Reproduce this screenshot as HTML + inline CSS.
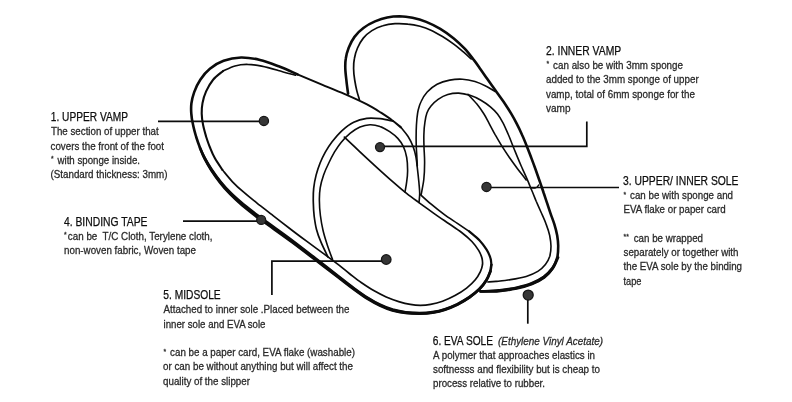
<!DOCTYPE html>
<html lang="en"><head><meta charset="utf-8"><title>Slipper structure</title>
<style>
html,body{margin:0;padding:0;background:#fff;}
body{width:792px;height:402px;overflow:hidden;font-family:"Liberation Sans",sans-serif;}
svg{display:block;position:absolute;left:0;top:0;will-change:transform;}
text{font-family:"Liberation Sans",sans-serif;white-space:pre;}
.t{font-size:12.0px;fill:#0e0e0e;stroke:#0e0e0e;stroke-width:0.25px;}
.b{font-size:11.5px;fill:#2a2a2a;stroke:#2a2a2a;stroke-width:0.3px;}
.i{font-size:11.5px;fill:#2a2a2a;stroke:#2a2a2a;stroke-width:0.3px;font-style:italic;}
.ld{fill:none;stroke:#0c0c0c;stroke-width:1.7;}
.dot{fill:#363636;stroke:#161616;stroke-width:1.3;}
</style></head><body>
<svg width="792" height="402" viewBox="0 0 792 402">
<rect width="792" height="402" fill="#fff"/>
<g fill="none" stroke="#0b0b0b" stroke-linecap="round" stroke-linejoin="round">
<path d="M348.1 93.7C347.8 91.5 346.8 84.5 346.4 80.3C345.9 76.1 345.4 72.2 345.3 68.6C345.2 65.0 345.2 61.9 345.8 58.5C346.3 55.0 347.3 51.3 348.7 47.7C350.2 44.1 352.1 40.1 354.5 36.9C356.9 33.6 360.0 30.5 363.4 28.0C366.8 25.4 371.0 23.1 375.0 21.4C379.0 19.7 383.1 18.3 387.2 17.5C391.2 16.7 395.1 16.3 399.4 16.3C403.6 16.4 408.0 16.9 412.5 17.8C417.0 18.7 421.6 20.0 426.2 21.9C430.9 23.8 435.7 26.2 440.3 28.9C444.9 31.7 449.7 35.1 453.8 38.4C457.8 41.7 461.4 45.2 464.7 48.7C467.9 52.1 470.6 55.7 473.2 59.1C475.9 62.4 478.0 65.6 480.3 68.9C482.6 72.1 484.6 75.1 487.0 78.6C489.4 82.1 492.2 85.8 495.0 89.7C497.7 93.5 500.9 97.8 503.6 101.7C506.2 105.6 508.7 109.5 510.9 113.1C513.1 116.8 514.9 120.0 516.7 123.6C518.6 127.2 520.3 130.8 522.0 134.7C523.8 138.5 525.5 142.8 527.0 146.7C528.6 150.6 530.0 154.4 531.4 158.1C532.8 161.9 534.1 165.4 535.5 169.2C536.9 173.1 538.3 177.3 539.7 181.2C541.0 185.2 542.5 189.3 543.7 193.0C545.0 196.7 546.0 200.0 547.2 203.4C548.3 206.9 549.4 210.1 550.6 213.6C551.8 217.1 553.3 220.7 554.4 224.4C555.5 228.0 556.5 231.8 557.2 235.5C557.8 239.2 558.3 242.9 558.2 246.6C558.2 250.3 558.1 254.1 557.2 257.7C556.2 261.3 554.8 264.9 552.6 268.2C550.4 271.4 547.5 274.5 544.0 277.1C540.6 279.7 536.5 281.8 531.9 283.6C527.3 285.5 522.1 286.9 516.5 288.1C511.0 289.3 504.9 290.2 498.9 290.7C492.8 291.2 483.6 291.3 480.5 291.4" stroke-width="2.6"/>
<path d="M558.1 257.5C557.2 259.3 555.1 265.0 552.8 268.3C550.5 271.7 547.8 274.9 544.3 277.5C540.9 280.1 536.7 282.2 532.0 284.1C527.4 285.9 522.2 287.4 516.6 288.6C511.1 289.7 504.9 290.7 498.9 291.1C492.9 291.6 483.6 291.4 480.5 291.4L480.5 291.4C483.6 291.2 492.8 290.9 498.8 290.3C504.8 289.6 511.0 288.9 516.5 287.7C521.9 286.5 527.2 285.1 531.7 283.2C536.3 281.4 540.3 279.3 543.8 276.8C547.2 274.2 550.0 271.2 552.4 268.0C554.8 264.8 557.2 259.3 558.1 257.5 Z" fill="#0b0b0b" stroke-width="2.6"/>
<path d="M359.4 99.4C359.0 98.0 357.7 94.3 356.9 91.1C356.1 87.9 355.3 83.8 354.7 80.0C354.1 76.2 353.6 72.2 353.6 68.6C353.5 65.0 353.7 61.9 354.4 58.5C355.0 55.0 356.0 51.4 357.5 48.0C359.0 44.6 360.9 41.0 363.3 38.1C365.7 35.2 368.6 32.7 371.9 30.6C375.1 28.6 378.9 26.9 382.8 25.8C386.7 24.6 390.8 24.0 395.0 23.7C399.2 23.4 403.6 23.6 407.8 24.1C412.0 24.5 416.1 25.3 420.0 26.3C423.8 27.4 427.2 28.6 430.9 30.2C434.7 31.9 438.6 34.2 442.5 36.5C446.4 38.9 450.6 41.8 454.1 44.4C457.5 46.9 460.5 49.5 463.4 51.9C466.3 54.4 469.9 57.8 471.2 59.0" stroke-width="1.7"/>
<path d="M417.3 166.0C417.2 164.2 417.0 159.1 416.8 155.5C416.6 151.9 416.3 148.4 416.2 144.2C416.1 140.1 416.1 135.1 416.2 130.9C416.3 126.6 416.6 122.2 416.9 118.8C417.3 115.3 417.5 112.9 418.2 110.0C418.9 107.1 419.6 104.5 421.1 101.5C422.5 98.5 424.5 94.9 427.2 92.0C429.8 89.1 433.4 86.2 437.1 84.2C440.9 82.2 445.4 80.9 449.7 80.1C453.9 79.3 458.3 79.0 462.5 79.2C466.7 79.5 471.0 80.4 475.0 81.5C479.0 82.7 482.9 84.6 486.2 86.3C489.6 87.9 493.5 90.6 495.0 91.5" stroke-width="1.6"/>
<path d="M421.2 194.4C421.6 191.9 423.2 184.7 423.8 179.5C424.4 174.3 424.6 168.4 424.6 163.1C424.7 157.8 424.2 152.3 424.0 147.5C423.9 142.7 423.7 138.5 423.9 134.3C424.0 130.2 424.3 125.8 424.9 122.3C425.4 118.8 425.9 115.8 426.9 113.0C427.9 110.3 429.1 108.3 431.0 106.0C432.9 103.7 435.3 101.2 438.1 99.3C440.9 97.4 444.4 95.5 447.8 94.5C451.2 93.5 455.0 93.0 458.7 93.1C462.4 93.3 466.3 94.2 470.0 95.3C473.7 96.5 477.5 98.2 480.9 100.2C484.2 102.1 487.6 104.4 490.4 106.8C493.2 109.1 495.4 111.3 497.5 114.0C499.6 116.7 501.2 119.5 503.0 122.8C504.8 126.2 506.5 130.4 508.2 134.3C510.0 138.3 511.6 142.7 513.2 146.7C514.9 150.7 516.4 154.7 518.0 158.4C519.5 162.2 521.1 165.7 522.6 169.2C524.2 172.7 525.7 175.9 527.2 179.4C528.7 182.8 530.0 186.2 531.5 189.8C533.1 193.5 534.6 197.4 536.2 201.3C537.9 205.2 539.7 209.2 541.4 213.0C543.1 216.8 544.9 220.6 546.2 224.4C547.6 228.1 548.9 231.8 549.7 235.5C550.4 239.2 551.0 242.9 551.0 246.3C551.0 249.7 550.7 253.1 549.8 256.2C548.8 259.2 547.4 262.1 545.4 264.6C543.4 267.2 541.0 269.5 537.8 271.4C534.6 273.4 530.8 275.0 526.2 276.4C521.7 277.7 515.6 278.8 510.6 279.6C505.6 280.5 499.8 281.0 496.0 281.4C492.2 281.8 489.2 281.9 487.8 282.0" stroke-width="1.6"/>
<path d="M468.0 94.4C469.5 96.0 474.2 100.8 476.9 104.1C479.5 107.3 481.7 110.5 483.8 113.8C485.9 117.0 487.3 120.1 489.2 123.6C491.1 127.1 493.0 130.9 495.1 134.7C497.3 138.4 499.6 142.4 501.9 146.2C504.3 150.0 506.8 153.7 509.4 157.5C512.0 161.2 514.7 165.0 517.5 168.7C520.4 172.5 524.8 178.1 526.2 180.0" stroke-width="1.6"/>
<path d="M531.9 187.9C532.4 187.9 534.0 188.2 534.9 188.1C535.7 187.9 536.5 187.5 537.2 187.0C537.8 186.5 538.4 185.3 538.7 185.0" stroke-width="1.4"/>
<path d="M297.5 74.4C294.4 73.1 285.0 68.7 278.7 66.3C272.5 63.9 266.2 61.3 260.0 59.9C253.7 58.4 247.2 57.4 241.1 57.5C235.0 57.7 228.8 58.9 223.6 60.8C218.4 62.6 213.8 65.6 209.9 68.8C206.0 71.9 202.9 75.9 200.3 79.8C197.7 83.7 195.7 88.1 194.2 92.1C192.8 96.0 191.9 99.8 191.4 103.4C191.0 107.0 191.0 110.0 191.3 113.6C191.5 117.2 192.2 121.1 193.1 125.0C193.9 128.9 195.1 133.2 196.2 137.0C197.4 140.8 198.6 144.2 200.0 147.8C201.4 151.3 202.7 154.5 204.6 158.2C206.6 162.0 208.9 166.0 211.5 170.0C214.2 174.0 217.3 178.4 220.5 182.3C223.6 186.3 226.9 190.0 230.6 193.8C234.3 197.5 238.1 200.9 242.6 204.7C247.2 208.5 252.5 212.6 257.8 216.6C263.1 220.5 268.6 224.2 274.4 228.4C280.2 232.6 285.6 236.5 292.5 241.6C299.4 246.8 307.9 253.4 315.6 259.3C323.3 265.2 332.2 272.0 338.8 277.1C345.3 282.2 350.2 286.1 355.0 289.6C359.8 293.1 363.3 295.7 367.5 298.2C371.7 300.8 375.8 303.2 380.0 305.1C384.2 307.1 388.2 308.7 392.5 310.0C396.8 311.2 401.1 312.1 405.6 312.6C410.1 313.2 414.9 313.4 419.4 313.4C423.9 313.4 428.2 313.1 432.5 312.5C436.8 311.8 440.8 310.9 445.0 309.5C449.2 308.2 453.4 306.4 457.5 304.4C461.6 302.3 465.7 299.9 469.4 297.4C473.0 294.8 476.5 291.9 479.4 289.1C482.2 286.2 484.6 283.0 486.4 280.1C488.2 277.3 489.3 274.3 490.1 271.7C491.0 269.1 491.2 265.8 491.4 264.7" stroke-width="2.6"/>
<path d="M491.4 264.7C491.2 263.6 491.3 260.4 490.4 257.9C489.6 255.4 488.4 252.6 486.6 249.7C484.7 246.7 482.2 243.3 479.4 240.3C476.5 237.3 471.0 233.0 469.4 231.5" stroke-width="2.2"/>
<path d="M469.4 231.5C467.4 230.2 461.6 226.3 457.4 223.4C453.1 220.5 448.4 217.6 444.1 214.4C439.7 211.2 435.1 207.5 431.2 204.2C427.2 200.9 422.0 196.0 420.2 194.4" stroke-width="1.7"/>
<path d="M200.0 148.0C200.8 149.7 202.8 154.5 204.8 158.2C206.7 161.8 209.1 165.9 211.8 169.8C214.4 173.8 217.6 178.2 220.8 182.1C224.0 186.0 227.3 189.7 231.0 193.3C234.7 197.0 238.6 200.3 243.1 204.1C247.7 207.8 253.0 211.9 258.3 215.8C263.6 219.8 269.1 223.6 274.8 227.8C280.6 232.0 286.1 235.9 292.9 241.0C299.8 246.2 308.3 252.8 316.0 258.8C323.7 264.7 332.5 271.6 339.1 276.7C345.6 281.7 350.5 285.7 355.3 289.2C360.1 292.7 363.6 295.2 367.8 297.8C371.9 300.4 376.1 302.8 380.2 304.7C384.3 306.7 388.4 308.3 392.6 309.6C396.9 310.8 401.2 311.7 405.7 312.2C410.1 312.8 414.9 313.0 419.4 313.0C423.8 313.0 428.2 312.8 432.5 312.1C436.7 311.5 440.8 310.6 444.9 309.2C449.1 307.9 453.3 306.2 457.4 304.2C461.4 302.1 465.6 299.7 469.3 297.2C472.9 294.7 476.4 291.8 479.3 289.0C482.1 286.1 484.5 283.1 486.3 280.1C488.2 277.1 489.9 272.7 490.6 271.2L490.6 271.2C489.9 272.7 488.3 277.2 486.5 280.2C484.6 283.2 482.3 286.3 479.5 289.2C476.6 292.1 473.1 294.9 469.5 297.5C465.8 300.1 461.7 302.5 457.6 304.6C453.5 306.6 449.3 308.4 445.1 309.8C440.9 311.2 436.8 312.1 432.5 312.8C428.3 313.5 423.9 313.7 419.4 313.8C414.9 313.8 410.1 313.6 405.6 313.0C401.1 312.5 396.7 311.6 392.4 310.4C388.1 309.1 384.0 307.5 379.8 305.5C375.6 303.6 371.4 301.3 367.2 298.7C363.1 296.1 359.5 293.5 354.7 290.0C349.9 286.5 345.0 282.6 338.4 277.5C331.8 272.5 323.0 265.7 315.2 259.8C307.5 253.9 299.0 247.3 292.1 242.2C285.2 237.1 279.7 233.2 273.9 229.1C268.1 224.9 262.6 221.2 257.3 217.3C252.0 213.3 246.7 209.1 242.1 205.3C237.6 201.4 233.8 197.9 230.2 194.2C226.5 190.4 223.2 186.6 220.1 182.6C216.9 178.6 213.9 174.2 211.3 170.2C208.7 166.1 206.4 162.0 204.5 158.3C202.6 154.6 200.8 149.7 200.0 148.0 Z" fill="#0b0b0b" stroke-width="2.6"/>
<path d="M295.5 75.3C292.6 74.5 283.9 71.9 278.2 70.4C272.6 68.8 266.7 67.1 261.6 66.1C256.4 65.1 251.9 64.4 247.5 64.4C243.1 64.3 239.1 64.8 235.0 65.9C230.9 67.0 225.1 70.1 223.1 70.9" stroke-width="1.6"/>
<path d="M223.1 70.9C221.5 72.4 216.0 76.3 213.1 79.7C210.3 83.1 207.9 87.5 206.1 91.4C204.3 95.3 203.2 99.4 202.5 103.1C201.8 106.8 201.6 110.0 201.7 113.6C201.8 117.2 202.3 121.1 203.1 125.0C203.9 128.9 205.1 133.1 206.2 136.9C207.4 140.6 208.5 144.0 210.0 147.5C211.4 151.0 212.7 154.4 214.8 158.1C216.9 161.9 221.2 168.0 222.5 170.0" stroke-width="2.1"/>
<path d="M222.5 170.0C224.2 172.0 228.9 178.0 232.5 181.8C236.0 185.5 239.5 188.7 243.7 192.2C247.8 195.8 252.3 199.4 257.3 203.3C262.2 207.2 268.1 211.7 273.4 215.9C278.7 220.1 283.8 224.0 289.4 228.2C294.9 232.5 300.8 236.9 306.9 241.4C312.9 245.8 320.2 251.1 325.6 255.1C331.0 259.1 335.1 262.2 339.0 265.2C343.0 268.3 345.6 270.6 349.3 273.5C353.0 276.3 357.1 279.6 361.2 282.5C365.3 285.3 369.5 288.2 373.7 290.6C377.9 293.0 382.0 295.1 386.2 297.0C390.4 298.8 394.7 300.4 398.7 301.6C402.7 302.8 406.7 303.8 410.3 304.4C413.9 305.0 416.9 305.3 420.3 305.3C423.7 305.3 426.9 305.1 430.6 304.4C434.3 303.7 438.4 302.7 442.5 301.2C446.6 299.8 451.0 297.8 455.0 295.6C459.0 293.4 463.2 290.7 466.6 288.1C469.9 285.5 473.0 282.6 475.3 279.8C477.6 277.1 479.2 274.2 480.4 271.7C481.6 269.2 482.2 266.9 482.5 264.7C482.7 262.4 482.6 260.6 482.0 258.2C481.4 255.9 480.4 253.4 478.8 250.6C477.1 247.8 474.7 244.5 471.9 241.5C469.0 238.5 465.4 235.4 461.6 232.5C457.7 229.5 453.5 226.8 449.0 223.7C444.6 220.7 439.8 217.5 434.9 214.1C430.1 210.6 424.3 206.5 419.6 203.1C415.0 199.7 411.1 196.9 406.9 193.6C402.6 190.3 399.4 187.5 394.4 183.1C389.3 178.7 382.6 172.7 376.7 167.3C370.8 161.9 364.3 155.9 358.9 150.8C353.5 145.8 346.8 139.5 344.4 137.2" stroke-width="1.7"/>
<path d="M297.5 74.4C301.7 76.1 314.3 81.4 322.5 84.8C330.7 88.3 339.2 91.7 346.6 94.9C353.9 98.1 360.7 101.2 366.5 104.2C372.2 107.1 376.7 110.0 381.0 112.7C385.2 115.4 388.8 117.8 392.1 120.3C395.5 122.7 399.6 126.3 401.1 127.5" stroke-width="2.0"/>
<path d="M401.1 127.5C402.2 129.0 406.1 133.3 408.1 136.5C410.1 139.7 411.8 143.2 413.1 146.6C414.4 149.9 415.2 153.1 415.9 156.9C416.6 160.7 417.0 165.1 417.5 169.4C418.0 173.6 418.5 178.3 418.9 182.3C419.2 186.4 419.7 190.1 419.7 193.4C419.7 196.8 419.1 201.0 419.0 202.5" stroke-width="1.6"/>
<path d="M393.1 121.2C391.0 120.8 384.8 119.2 380.4 118.7C376.0 118.3 371.3 117.9 366.8 118.4C362.4 119.0 357.9 120.1 353.7 122.2C349.5 124.2 345.4 127.5 341.8 130.8C338.2 134.0 334.9 138.2 332.1 141.8C329.4 145.3 327.3 148.7 325.3 152.2C323.3 155.8 321.7 159.2 320.1 163.0C318.6 166.8 317.2 170.9 316.1 175.1C315.0 179.3 314.2 183.7 313.7 188.2C313.2 192.8 313.2 197.5 313.3 202.2C313.4 207.0 313.7 212.0 314.2 216.5C314.8 221.0 315.4 225.2 316.5 229.5C317.6 233.8 319.1 237.7 321.0 242.2C322.9 246.8 326.8 254.5 328.0 257.0" stroke-width="1.7"/>
<path d="M405.0 191.9C405.3 190.2 406.3 185.4 406.7 181.7C407.2 178.1 407.7 174.0 407.6 170.0C407.6 166.0 407.4 161.4 406.7 157.5C406.0 153.6 404.9 149.7 403.4 146.6C401.9 143.4 400.1 140.9 397.8 138.4C395.5 135.9 392.6 133.7 389.7 131.7C386.7 129.7 383.3 127.6 380.0 126.5C376.7 125.3 373.3 124.6 370.0 124.7C366.7 124.8 363.3 125.6 360.0 127.1C356.7 128.6 353.1 130.9 350.0 133.4C346.9 136.0 343.7 139.2 341.1 142.4C338.5 145.5 336.5 148.8 334.4 152.2C332.4 155.7 330.6 159.2 328.8 163.0C326.9 166.8 325.0 171.0 323.6 175.1C322.2 179.2 320.9 183.4 320.2 187.8C319.5 192.1 319.3 196.4 319.4 201.0C319.4 205.6 319.8 210.6 320.4 215.5C321.0 220.4 321.9 225.4 323.0 230.2C324.1 235.1 325.7 240.0 327.2 244.8C328.8 249.7 331.6 257.0 332.5 259.4" stroke-width="1.6"/>
</g>
<g class="leaders">
<polyline class="ld" points="158.0,121.3 263.9,121.3"/>
<circle class="dot" cx="263.9" cy="120.9" r="4.6"/>
<polyline class="ld" points="586.8,121.5 586.8,146.4 380.0,146.4"/>
<circle class="dot" cx="380.0" cy="147.1" r="4.5"/>
<polyline class="ld" points="619.0,187.5 486.5,187.5"/>
<circle class="dot" cx="486.5" cy="186.9" r="4.6"/>
<polyline class="ld" points="183.0,221.2 261.2,221.2"/>
<circle class="dot" cx="261.2" cy="219.9" r="4.5"/>
<polyline class="ld" points="271.9,295.0 271.9,261.1 386.0,261.1"/>
<circle class="dot" cx="386.2" cy="259.5" r="4.8"/>
<polyline class="ld" points="527.8,323.7 527.8,295.0"/>
<circle class="dot" cx="528.2" cy="295.1" r="5.0"/>
</g>
<g class="labels">
<text class="t" x="50.8" y="121.0" textLength="77.2" lengthAdjust="spacingAndGlyphs" xml:space="preserve">1. UPPER VAMP</text>
<text class="b" x="51.0" y="135.3" textLength="107.7" lengthAdjust="spacingAndGlyphs" xml:space="preserve">The section of upper that</text>
<text class="b" x="50.5" y="149.6" textLength="113.5" lengthAdjust="spacingAndGlyphs" xml:space="preserve">covers the front of the foot</text>
<text class="b" x="51.0" y="163.9" textLength="89.0" lengthAdjust="spacingAndGlyphs" xml:space="preserve"><tspan font-size="8" dy="-2.6">*</tspan><tspan dy="2.6" dx="1.4"> with sponge inside.</tspan></text>
<text class="b" x="50.5" y="178.2" textLength="117.0" lengthAdjust="spacingAndGlyphs" xml:space="preserve">(Standard thickness: 3mm)</text>
<text class="t" x="546.0" y="54.6" textLength="75.2" lengthAdjust="spacingAndGlyphs" xml:space="preserve">2. INNER VAMP</text>
<text class="b" x="546.5" y="68.9" textLength="136.5" lengthAdjust="spacingAndGlyphs" xml:space="preserve"><tspan font-size="8" dy="-2.6">*</tspan><tspan dy="2.6" dx="1.4"> can also be with 3mm sponge</tspan></text>
<text class="b" x="546.0" y="83.3" textLength="152.7" lengthAdjust="spacingAndGlyphs" xml:space="preserve">added to the 3mm sponge of upper</text>
<text class="b" x="546.0" y="97.7" textLength="149.0" lengthAdjust="spacingAndGlyphs" xml:space="preserve">vamp, total of 6mm sponge for the</text>
<text class="b" x="546.0" y="112.1" textLength="24.5" lengthAdjust="spacingAndGlyphs" xml:space="preserve">vamp</text>
<text class="t" x="623.0" y="184.7" textLength="115.5" lengthAdjust="spacingAndGlyphs" xml:space="preserve">3. UPPER/ INNER SOLE</text>
<text class="b" x="623.5" y="199.1" textLength="109.5" lengthAdjust="spacingAndGlyphs" xml:space="preserve"><tspan font-size="8" dy="-2.6">*</tspan><tspan dy="2.6" dx="1.4"> can be with sponge and</tspan></text>
<text class="b" x="623.5" y="213.4" textLength="102.2" lengthAdjust="spacingAndGlyphs" xml:space="preserve">EVA flake or paper card</text>
<text class="b" x="623.5" y="241.9" textLength="79.5" lengthAdjust="spacingAndGlyphs" xml:space="preserve"><tspan font-size="8" dy="-2.6">**</tspan><tspan dy="2.6" dx="2.7"> can be wrapped</tspan></text>
<text class="b" x="623.5" y="256.1" textLength="115.0" lengthAdjust="spacingAndGlyphs" xml:space="preserve">separately or together with</text>
<text class="b" x="623.5" y="270.4" textLength="118.5" lengthAdjust="spacingAndGlyphs" xml:space="preserve">the EVA sole by the binding</text>
<text class="b" x="623.5" y="284.6" textLength="18.0" lengthAdjust="spacingAndGlyphs" xml:space="preserve">tape</text>
<text class="t" x="63.9" y="225.5" textLength="83.6" lengthAdjust="spacingAndGlyphs" xml:space="preserve">4. BINDING TAPE</text>
<text class="b" x="64.0" y="239.8" textLength="148.5" lengthAdjust="spacingAndGlyphs" xml:space="preserve"><tspan font-size="8" dy="-2.6">*</tspan><tspan dy="2.6" dx="1.4">can be  T/C Cloth, Terylene cloth,</tspan></text>
<text class="b" x="64.0" y="254.1" textLength="132.0" lengthAdjust="spacingAndGlyphs" xml:space="preserve">non-woven fabric, Woven tape</text>
<text class="t" x="163.3" y="299.1" textLength="57.4" lengthAdjust="spacingAndGlyphs" xml:space="preserve">5. MIDSOLE</text>
<text class="b" x="163.5" y="313.3" textLength="186.0" lengthAdjust="spacingAndGlyphs" xml:space="preserve">Attached to inner sole .Placed between the</text>
<text class="b" x="163.5" y="327.6" textLength="102.0" lengthAdjust="spacingAndGlyphs" xml:space="preserve">inner sole and EVA sole</text>
<text class="b" x="163.5" y="356.1" textLength="191.5" lengthAdjust="spacingAndGlyphs" xml:space="preserve"><tspan font-size="8" dy="-2.6">*</tspan><tspan dy="2.6" dx="1.4"> can be a paper card, EVA flake (washable)</tspan></text>
<text class="b" x="163.0" y="370.3" textLength="190.0" lengthAdjust="spacingAndGlyphs" xml:space="preserve">or can be without anything but will affect the</text>
<text class="b" x="163.0" y="384.5" textLength="87.0" lengthAdjust="spacingAndGlyphs" xml:space="preserve">quality of the slipper</text>
<text class="t" x="432.8" y="344.6" textLength="60.2" lengthAdjust="spacingAndGlyphs" xml:space="preserve">6. EVA SOLE</text>
<text class="i" x="498.0" y="344.6" textLength="105.0" lengthAdjust="spacingAndGlyphs" xml:space="preserve">(Ethylene Vinyl Acetate)</text>
<text class="b" x="433.0" y="358.8" textLength="162.0" lengthAdjust="spacingAndGlyphs" xml:space="preserve">A polymer that approaches elastics in</text>
<text class="b" x="433.0" y="372.9" textLength="167.0" lengthAdjust="spacingAndGlyphs" xml:space="preserve">softnesss and flexibility but is cheap to</text>
<text class="b" x="433.0" y="387.0" textLength="112.0" lengthAdjust="spacingAndGlyphs" xml:space="preserve">process relative to rubber.</text>
</g>
</svg>
</body></html>
